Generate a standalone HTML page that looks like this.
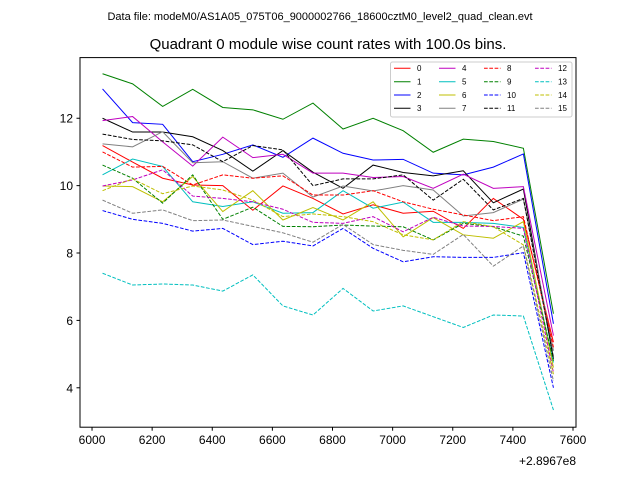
<!DOCTYPE html>
<html><head><meta charset="utf-8"><style>
body{margin:0;background:#fff;}
svg{display:block;font-family:"Liberation Sans","DejaVu Sans",sans-serif;}
</style></head><body>
<svg id="chart" width="640" height="480">
<text x="320" y="20" font-size="11" text-anchor="middle">Data file: modeM0/AS1A05_075T06_9000002766_18600cztM0_level2_quad_clean.evt</text>
<text x="328" y="49" font-size="15" text-anchor="middle">Quadrant 0 module wise count rates with 100.0s bins.</text>
<g id="plot"></g>
<g id="axes"></g>
<text x="576" y="465" font-size="12" text-anchor="end">+2.8967e8</text>
<g id="legend"></g>
</svg>
<script>
const xStart = 6035, xStep = 100;
const xTicks = [6000,6200,6400,6600,6800,7000,7200,7400,7600];
const yTicks = [4,6,8,10,12];
const s0 = [11.19,10.7,10.22,10.02,10.0,9.27,9.99,9.62,9.16,9.43,9.18,9.24,8.73,9.62,9.0,5.35];
const s1 = [13.32,13.02,12.35,12.86,12.32,12.25,11.97,12.45,11.68,12.0,11.63,10.99,11.38,11.31,11.11,6.2];
const s2 = [12.87,11.87,11.82,10.71,10.93,11.21,10.84,11.41,10.96,10.76,10.78,10.37,10.32,10.55,10.94,5.9];
const s3 = [12.0,11.59,11.59,11.45,11.04,10.43,11.04,10.4,9.92,10.61,10.39,10.29,10.44,9.49,9.9,4.85];
const s4 = [11.93,12.05,11.3,10.58,11.44,10.83,10.93,10.37,10.37,10.24,10.27,9.92,10.34,9.92,9.97,5.55];
const s5 = [10.32,10.79,10.57,9.52,9.38,9.52,9.18,9.2,9.85,9.33,9.51,8.91,8.91,8.88,8.76,4.75];
const s6 = [9.99,9.97,9.52,10.27,9.23,9.85,8.98,9.35,8.98,9.52,8.48,9.05,8.54,8.44,8.93,4.6];
const s7 = [11.24,11.15,11.6,10.68,10.71,10.22,10.37,9.66,9.99,9.84,10.0,9.87,9.1,9.2,9.6,5.1];
const s8 = [11.0,10.55,10.57,10.02,10.32,10.22,10.29,9.72,9.72,9.85,9.52,9.3,9.13,8.96,9.08,5.2];
const s9 = [10.61,10.22,9.48,10.32,9.0,9.36,8.79,8.78,8.83,8.8,8.78,8.39,8.88,8.78,8.5,4.8];
const s10 = [9.26,9.0,8.88,8.65,8.73,8.25,8.35,8.21,8.73,8.14,7.74,7.89,7.87,7.87,8.01,4.0];
const s11 = [11.53,11.37,11.33,11.21,10.71,11.19,11.06,10.0,10.2,10.2,10.32,9.57,10.19,9.28,9.62,4.9];
const s12 = [9.99,10.17,10.47,9.69,9.62,9.52,9.3,8.91,8.88,9.08,8.63,9.06,8.8,8.79,8.73,4.45];
const s13 = [7.4,7.05,7.08,7.05,6.87,7.35,6.43,6.16,6.95,6.28,6.43,6.11,5.79,6.16,6.13,3.34];
const s14 = [9.85,10.2,9.76,9.99,9.87,9.57,9.08,9.16,9.08,8.93,8.54,8.39,8.93,8.78,8.24,4.4];
const s15 = [9.57,9.18,9.28,8.96,8.98,8.79,8.6,8.32,8.85,8.25,8.08,7.96,8.55,7.61,8.21,4.2];
const seriesLabels = ["0","1","2","3","4","5","6","7","8","9","10","11","12","13","14","15"];
const allSeries = [s0,s1,s2,s3,s4,s5,s6,s7,s8,s9,s10,s11,s12,s13,s14,s15];
const colors = ["#ff0000","#008000","#0000ff","#000000","#bf00bf","#00bfbf","#bfbf00","#808080"];

const L=80,R=576,T=57.6,B=427.2;
const xMin=5960,xMax=7610,yMin=2.83,yMax=13.8;
function xs(v){return L+(v-xMin)/(xMax-xMin)*(R-L);}
function ys(v){return B-(v-yMin)/(yMax-yMin)*(B-T);}
const NS="http://www.w3.org/2000/svg";
function mk(t,a,p){const e=document.createElementNS(NS,t);for(const k in a)e.setAttribute(k,a[k]);p.appendChild(e);return e;}
const plot=document.getElementById('plot'),axes=document.getElementById('axes'),leg=document.getElementById('legend');

allSeries.forEach((s,i)=>{
  const pts=s.map((v,j)=>xs(xStart+j*xStep).toFixed(2)+','+ys(v).toFixed(2)).join(' ');
  const a={points:pts,fill:'none',stroke:colors[i%8],'stroke-width':1};
  if(i>=8)a['stroke-dasharray']='3.7,1.6';
  const pl=mk('polyline',a,plot);
  
  
});

const fr=mk('rect',{x:L,y:T,width:R-L,height:B-T,fill:'none',stroke:'#000','stroke-width':1},axes);


xTicks.forEach(v=>{
  const x=xs(v);
  mk('line',{x1:x,y1:B,x2:x,y2:B+3.5,stroke:'#000'},axes);
  const t=mk('text',{x:x,y:B+17,'font-size':12,'text-anchor':'middle'},axes);
  t.textContent=v;
  
  
});
yTicks.forEach(v=>{
  const y=ys(v);
  mk('line',{x1:L-3.5,y1:y,x2:L,y2:y,stroke:'#000'},axes);
  const t=mk('text',{x:L-7,y:y+4.5,'font-size':12,'text-anchor':'end'},axes);
  t.textContent=v;
  
  
});

mk('rect',{x:390.5,y:62,width:181.5,height:55,rx:2,fill:'#fff','fill-opacity':0.8,stroke:'#ccc','stroke-width':1},leg);
const colX=[394,439,484,535];
const rowY=[68.3,81.7,95,108.3];
seriesLabels.forEach((lab,i)=>{
  const c=Math.floor(i/4),r=i%4;
  const x=colX[c],y=rowY[r];
  const g=mk('g',{},leg);
  
  
  const a={x1:x,y1:y,x2:x+16.5,y2:y,stroke:colors[i%8],'stroke-width':1};
  if(i>=8)a['stroke-dasharray']='3.7,1.6';
  mk('line',a,g);
  const t=mk('text',{x:x+23,y:y+2.8,'font-size':8},g);
  t.textContent=lab;
});
</script>
</body></html>
